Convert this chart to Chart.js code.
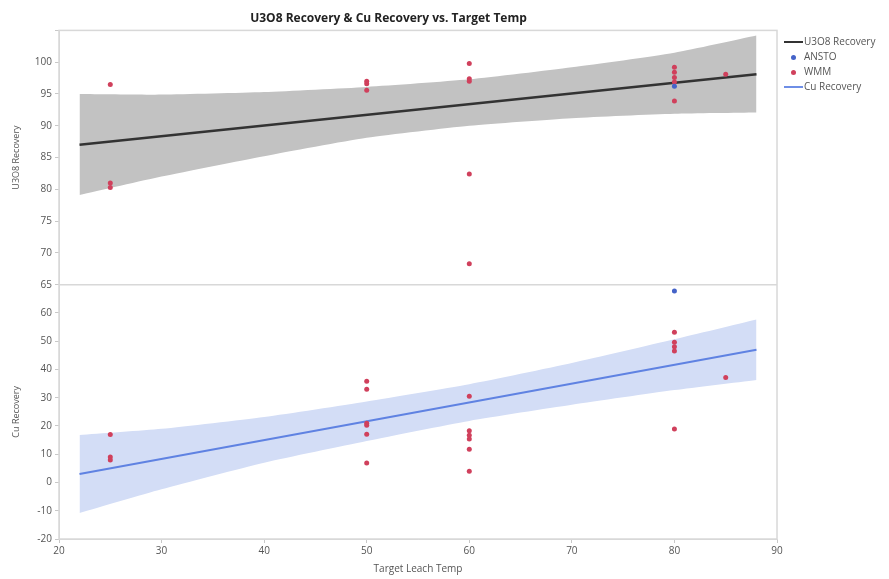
<!DOCTYPE html>
<html>
<head>
<meta charset="utf-8">
<script src="https://cdn.jsdelivr.net/npm/chart.js@4"></script>
<style>
  body { margin: 0; background: #fff; }
  #wrap { position: relative; width: 889px; height: 579px; }
  #legend { position: absolute; left: 784px; top: 34px; font-family: "Open Sans", sans-serif; font-size: 10px; color: #555; }
  #legend div { height: 15px; line-height: 15px; white-space: nowrap; }
  #legend span.ln { display: inline-block; width: 19px; height: 2px; vertical-align: middle; margin-right: 1px; }
  #legend span.dt { display: inline-block; width: 5px; height: 5px; border-radius: 50%; vertical-align: middle; margin: 0 8px 0 7px; }
</style>
</head>
<body>
<div id="wrap">
  <canvas id="myChart" width="889" height="579"></canvas>
  <div id="legend">
    <div><span class="ln" style="background:#333"></span>U3O8 Recovery</div>
    <div><span class="dt" style="background:#4563c8"></span>ANSTO</div>
    <div><span class="dt" style="background:#d0405c"></span>WMM</div>
    <div><span class="ln" style="background:#6e8ee6"></span>Cu Recovery</div>
  </div>
</div>
<script>
// fit lines + confidence bands
const fitX = [22, 88]
const u3o8Fit = [87.0, 98.1]
const cuFit = [3.0, 47.0]

const bandX = [22, 30, 40, 50, 60, 70, 80, 88]
const u3o8Upper = [95.0, 94.9, 95.3, 96.1, 97.3, 99.2, 101.5, 104.2]
const u3o8Lower = [79.1, 82.0, 85.2, 88.1, 90.0, 91.2, 91.9, 92.1]
const cuUpper = [16.8, 19.0, 23.2, 28.7, 34.8, 42.3, 50.7, 57.7]
const cuLower = [-10.8, -2.4, 7.0, 14.7, 21.8, 27.5, 32.7, 36.3]

// WMM points
const wmmTemp = [25, 25, 25, 50, 50, 50, 60, 60, 60, 60, 60, 80, 80, 80, 80, 80, 85]
const wmmU3o8 = [96.5, 81.0, 80.3, 97.0, 96.6, 95.6, 99.8, 97.4, 97.0, 82.4, 68.3, 99.2, 98.4, 97.6, 96.9, 93.9, 98.1]

const wmmCuTemp = [25, 25, 25, 50, 50, 50, 50, 50, 50, 60, 60, 60, 60, 60, 60, 80, 80, 80, 80, 80, 85]
const wmmCu = [17, 9, 8, 35.8, 33, 21, 20.3, 17.1, 6.9, 30.5, 18.3, 16.7, 15.4, 11.8, 4, 53.2, 49.6, 48, 46.5, 18.9, 37.2]

// ANSTO points
const anstoTemp = [80]
const anstoU3o8 = [96.2]
const anstoCu = [67.8]

const xTicks = [20, 30, 40, 50, 60, 70, 80, 90]

function pts(xs, ys) {
    return xs.map((x, i) => ({ x: x, y: ys[i] }))
}

const red = '#d0405c'
const blue = '#4563c8'

const framePlugin = {
    id: 'frame',
    afterDraw(chart) {
        const a = chart.chartArea
        const c = chart.ctx
        c.save()
        c.strokeStyle = '#d8d8d8'
        c.lineWidth = 1.5
        c.strokeRect(a.left, a.top, a.right - a.left, a.bottom - a.top)
        const yb = chart.scales.yU.bottom
        c.beginPath()
        c.moveTo(a.left, yb)
        c.lineTo(a.right, yb)
        c.stroke()
        c.restore()
    }
}

const tickFont = { family: 'Open Sans', size: 10 }
const band = { showLine: true, pointRadius: 0, borderWidth: 0, borderColor: 'rgba(0,0,0,0)', tension: 0.2, order: 5 }

const ctx = document.getElementById('myChart').getContext('2d')
const myChart = new Chart(ctx, {
    type: 'scatter',
    data: {
        datasets: [
            { ...band, label: 'u3o8 upper', data: pts(bandX, u3o8Upper), yAxisID: 'yU', fill: false },
            { ...band, label: 'u3o8 lower', data: pts(bandX, u3o8Lower), yAxisID: 'yU', fill: '-1', backgroundColor: '#c2c2c2' },
            { ...band, label: 'cu upper', data: pts(bandX, cuUpper), yAxisID: 'yCu', fill: false },
            { ...band, label: 'cu lower', data: pts(bandX, cuLower), yAxisID: 'yCu', fill: '-1', backgroundColor: '#d3ddf6' },
            { label: 'U3O8 Recovery', data: pts(fitX, u3o8Fit), yAxisID: 'yU', showLine: true, pointRadius: 0, borderColor: '#333', borderWidth: 2.5, order: 3 },
            { label: 'Cu Recovery', data: pts(fitX, cuFit), yAxisID: 'yCu', showLine: true, pointRadius: 0, borderColor: '#5f82e2', borderWidth: 2, order: 3 },
            { label: 'WMM', data: pts(wmmTemp, wmmU3o8), yAxisID: 'yU', pointRadius: 2.5, backgroundColor: red, borderWidth: 0, order: 1 },
            { label: 'WMM cu', data: pts(wmmCuTemp, wmmCu), yAxisID: 'yCu', pointRadius: 2.5, backgroundColor: red, borderWidth: 0, order: 1 },
            { label: 'ANSTO', data: pts(anstoTemp, anstoU3o8), yAxisID: 'yU', pointRadius: 2.5, backgroundColor: blue, borderWidth: 0, order: 0 },
            { label: 'ANSTO cu', data: pts(anstoTemp, anstoCu), yAxisID: 'yCu', pointRadius: 2.5, backgroundColor: blue, borderWidth: 0, order: 0 }
        ]
    },
    options: {
        responsive: false,
        animation: false,
        layout: { padding: { left: 0, right: 112, top: 0, bottom: 0 } },
        plugins: {
            legend: { display: false },
            tooltip: { enabled: false },
            title: {
                display: true,
                text: 'U3O8 Recovery & Cu Recovery vs. Target Temp',
                color: '#222',
                font: { family: 'Open Sans', size: 12, weight: 'bold' },
                padding: { top: 11, bottom: 5 }
            }
        },
        scales: {
            x: {
                type: 'linear',
                min: 20, max: 90,
                afterBuildTicks: s => { s.ticks = xTicks.map(v => ({ value: v })) },
                afterFit: s => { s.height = 40 },
                grid: { drawOnChartArea: false, tickLength: 4, color: '#c8c8c8' },
                border: { color: '#d8d8d8' },
                ticks: { color: '#555', font: tickFont, padding: 2 },
                title: { display: true, text: 'Target Leach Temp', color: '#555', font: { family: 'Open Sans', size: 10 }, padding: { top: 0, bottom: 4 } }
            },
            yCu: {
                type: 'linear',
                position: 'left',
                stack: 'panels',
                stackWeight: 1,
                min: -20, max: 70,
                ticks: { stepSize: 10, color: '#555', font: tickFont, padding: 3, callback: v => v === 70 ? '' : v },
                afterFit: s => { s.width = 59 },
                grid: { drawOnChartArea: false, tickLength: 4, color: '#c8c8c8' },
                border: { color: '#d8d8d8' },
                title: { display: true, text: 'Cu Recovery', color: '#555', font: { family: 'Open Sans', size: 9 }, padding: { top: 11, bottom: 0 } }
            },
            yU: {
                type: 'linear',
                position: 'left',
                stack: 'panels',
                stackWeight: 1,
                min: 65, max: 105,
                ticks: { stepSize: 5, color: '#555', font: tickFont, padding: 3, callback: v => v === 105 ? '' : v },
                afterFit: s => { s.width = 59 },
                grid: { drawOnChartArea: false, tickLength: 4, color: '#c8c8c8' },
                border: { color: '#d8d8d8' },
                title: { display: true, text: 'U3O8 Recovery', color: '#555', font: { family: 'Open Sans', size: 9 }, padding: { top: 11, bottom: 0 } }
            }
        }
    },
    plugins: [framePlugin]
});
</script>
</body>
</html>
